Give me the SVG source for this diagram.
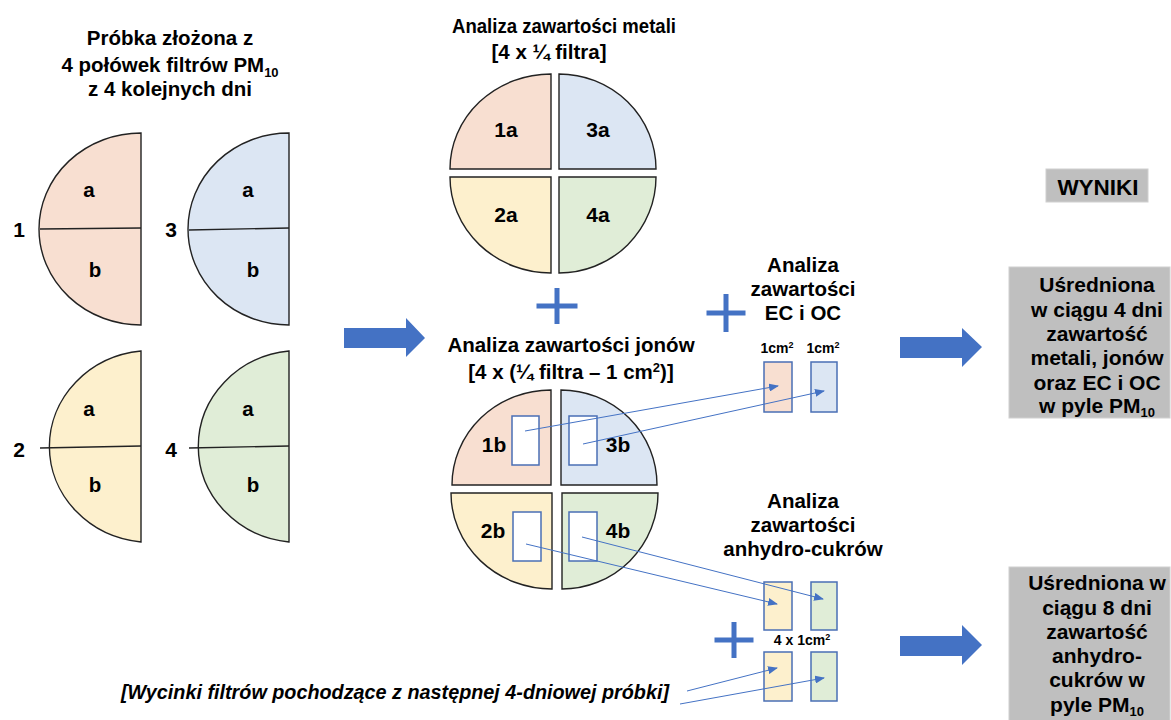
<svg xmlns="http://www.w3.org/2000/svg" width="1171" height="720" viewBox="0 0 1171 720">
<defs>
<style>
text{font-family:"Liberation Sans",Arial,sans-serif;font-weight:bold;fill:#000;text-anchor:middle}
.t{font-size:20.5px}
.q{font-size:21px}
.n{font-size:21px}
.r{font-size:21px}
.s{font-size:14px}
.it{font-size:19.8px;font-style:italic}
.sub{font-size:13px}
.p1{fill:#F8DFD1}.p2{fill:#FDF0CD}.p3{fill:#DCE6F3}.p4{fill:#E0EDD7}
.sh{stroke:#222;stroke-width:1.4}
.cut{fill:#fff;stroke:#4A6FB5;stroke-width:1.5}
.cr{stroke:#4A6FB5;stroke-width:1.5}
.box{fill:#BFBFBF;stroke:#D0D0D0;stroke-width:1}
.big{fill:#4472C4}
.conn{stroke:#4472C4;stroke-width:1;fill:none}
</style>
<marker id="ah" markerWidth="10" markerHeight="8" refX="9" refY="4" orient="auto" markerUnits="userSpaceOnUse">
<path d="M0,0 L10,4 L0,8 Z" fill="#4472C4"/>
</marker>
</defs>
<rect width="1171" height="720" fill="#fff"/>

<g id="title-left">
<text class="t" x="170" y="45">Próbka złożona z</text>
<text class="t" x="170" y="72">4 połówek filtrów PM<tspan class="sub" dy="5">10</tspan></text>
<text class="t" x="170" y="96">z 4 kolejnych dni</text>
</g>

<g id="half1">
<path class="p1 sh" d="M141,133 A102,96 0 0,0 141,325 Z"/>
<path class="sh" d="M40,229 L141,228"/>
<text class="t" x="89" y="197">a</text>
<text class="t" x="95" y="277">b</text>
<text class="n" x="19" y="237">1</text>
</g>
<g id="half3">
<path class="p3 sh" d="M289,133 A101,96 0 0,0 289,325 Z"/>
<path class="sh" d="M189,230 L289,228"/>
<text class="t" x="248" y="197">a</text>
<text class="t" x="253" y="277">b</text>
<text class="n" x="171" y="237">3</text>
</g>
<g id="half2">
<path class="p2 sh" d="M141,351 A102,96 0 0,0 141,542 Z"/>
<path class="sh" d="M40,448 L141,446"/>
<text class="t" x="89" y="416">a</text>
<text class="t" x="95" y="492">b</text>
<text class="n" x="19" y="457">2</text>
</g>
<g id="half4">
<path class="p4 sh" d="M289,351 A101,96 0 0,0 289,542 Z"/>
<path class="sh" d="M189,448 L289,446"/>
<text class="t" x="248" y="416">a</text>
<text class="t" x="253" y="492">b</text>
<text class="n" x="171" y="457">4</text>
</g>

<g id="arrow-main">
<path class="big" d="M344,328 L406,328 L406,318 L425,338 L406,357 L406,348 L344,348 Z"/>
</g>

<g id="metals">
<text class="t" x="564" y="33" textLength="224" lengthAdjust="spacingAndGlyphs">Analiza zawartości metali</text>
<text class="t" x="549" y="59">[4 x ¼ filtra]</text>
<path class="p1 sh" d="M551,169 L551,74 A101,95 0 0,0 450,169 Z"/>
<path class="p3 sh" d="M559,169 L559,74 A97,95 0 0,1 656,169 Z"/>
<path class="p2 sh" d="M551,177 L450,177 A101,96 0 0,0 551,273 Z"/>
<path class="p4 sh" d="M559,177 L656,177 A97,96 0 0,1 559,273 Z"/>
<text class="q" x="506" y="137">1a</text>
<text class="q" x="598" y="137">3a</text>
<text class="q" x="506" y="222">2a</text>
<text class="q" x="598" y="222">4a</text>
</g>

<g id="plus1"><path class="big" d="M554.5,288 h5 v15.5 h18 v5 h-18 v15.5 h-5 v-15.5 h-18 v-5 h18 Z"/></g>
<g id="plus2"><path class="big" d="M723.5,294 h5 v16.5 h17 v5 h-17 v16.5 h-5 v-16.5 h-17 v-5 h17 Z"/></g>
<g id="plus3"><path class="big" d="M731.5,622 h5 v15.5 h17 v5 h-17 v15.5 h-5 v-15.5 h-17 v-5 h17 Z"/></g>

<g id="ions">
<text class="t" x="571" y="352">Analiza zawartości jonów</text>
<text class="t" x="571" y="379">[4 x (¼ filtra – 1 cm<tspan class="sub" dy="-7">2</tspan><tspan dy="7">)]</tspan></text>
<path class="p1 sh" d="M551,485 L551,390 A99,95 0 0,0 452,485 Z"/>
<path class="p3 sh" d="M561,485 L561,390 A96,95 0 0,1 657,485 Z"/>
<path class="p2 sh" d="M552,493 L451,493 A101,96 0 0,0 552,589 Z"/>
<path class="p4 sh" d="M562,493 L658,493 A96,96 0 0,1 562,589 Z"/>
<rect class="cut" x="512" y="416" width="27" height="49"/>
<rect class="cut" x="569" y="416" width="28" height="49"/>
<rect class="cut" x="513" y="512" width="28" height="49"/>
<rect class="cut" x="569" y="512" width="28" height="49"/>
<text class="q" x="494" y="452">1b</text>
<text class="q" x="618" y="452">3b</text>
<text class="q" x="493" y="538">2b</text>
<text class="q" x="618" y="538">4b</text>
</g>

<g id="ecoc">
<text class="t" x="803" y="272">Analiza</text>
<text class="t" x="803" y="296">zawartości</text>
<text class="t" x="803" y="320">EC i OC</text>
<text class="s" x="777" y="353">1cm<tspan font-size="9" dy="-5">2</tspan></text>
<text class="s" x="823" y="353">1cm<tspan font-size="9" dy="-5">2</tspan></text>
<rect class="p1 cr" x="764" y="362" width="28" height="50"/>
<rect class="p3 cr" x="811" y="362" width="26" height="50"/>
</g>

<g id="sugars">
<text class="t" x="803" y="508">Analiza</text>
<text class="t" x="803" y="532">zawartości</text>
<text class="t" x="803" y="556">anhydro-cukrów</text>
<rect class="p2 cr" x="764" y="582" width="28" height="48"/>
<rect class="p4 cr" x="811" y="582" width="26" height="48"/>
<text class="s" x="802" y="645">4 x 1cm<tspan font-size="9" dy="-5">2</tspan></text>
<rect class="p2 cr" x="764" y="652" width="28" height="49"/>
<rect class="p4 cr" x="811" y="652" width="26" height="49"/>
</g>

<g id="next-sample">
<text class="it" x="395" y="699">[Wycinki filtrów pochodzące z następnej 4-dniowej próbki]</text>
</g>

<g id="connectors">
<path class="conn" marker-end="url(#ah)" d="M525,431 L778,386"/>
<path class="conn" marker-end="url(#ah)" d="M583,444 L824,391"/>
<path class="conn" marker-end="url(#ah)" d="M582,537 L823,599"/>
<path class="conn" marker-end="url(#ah)" d="M526,544 L777,604"/>
<path class="conn" marker-end="url(#ah)" d="M687,691 L777,668"/>
<path class="conn" marker-end="url(#ah)" d="M680,704 L824,678"/>
</g>

<g id="arrow-r1"><path class="big" d="M900,337 L962,337 L962,328 L982,347 L962,367 L962,358 L900,358 Z"/></g>
<g id="arrow-r2"><path class="big" d="M900,636 L962,636 L962,625 L982,645 L962,665 L962,656 L900,656 Z"/></g>

<g id="wyniki">
<rect class="box" x="1046" y="169" width="102" height="33"/>
<text class="r" x="1098" y="195" font-size="22.5px" style="font-size:22.5px">WYNIKI</text>
</g>

<g id="result1">
<rect class="box" x="1009" y="267" width="161" height="151"/>
<text class="r" x="1097" y="292">Uśredniona</text>
<text class="r" x="1097" y="317">w ciągu 4 dni</text>
<text class="r" x="1097" y="341">zawartość</text>
<text class="r" x="1097" y="365">metali, jonów</text>
<text class="r" x="1097" y="390">oraz EC i OC</text>
<text class="r" x="1097" y="413">w pyle PM<tspan class="sub" dy="4">10</tspan></text>
</g>

<g id="result2">
<rect class="box" x="1009" y="567" width="161" height="160"/>
<text class="r" x="1097" y="590">Uśredniona w</text>
<text class="r" x="1097" y="615">ciągu 8 dni</text>
<text class="r" x="1097" y="639">zawartość</text>
<text class="r" x="1097" y="663">anhydro-</text>
<text class="r" x="1097" y="687">cukrów w</text>
<text class="r" x="1097" y="712">pyle PM<tspan class="sub" dy="4">10</tspan></text>
</g>
</svg>
